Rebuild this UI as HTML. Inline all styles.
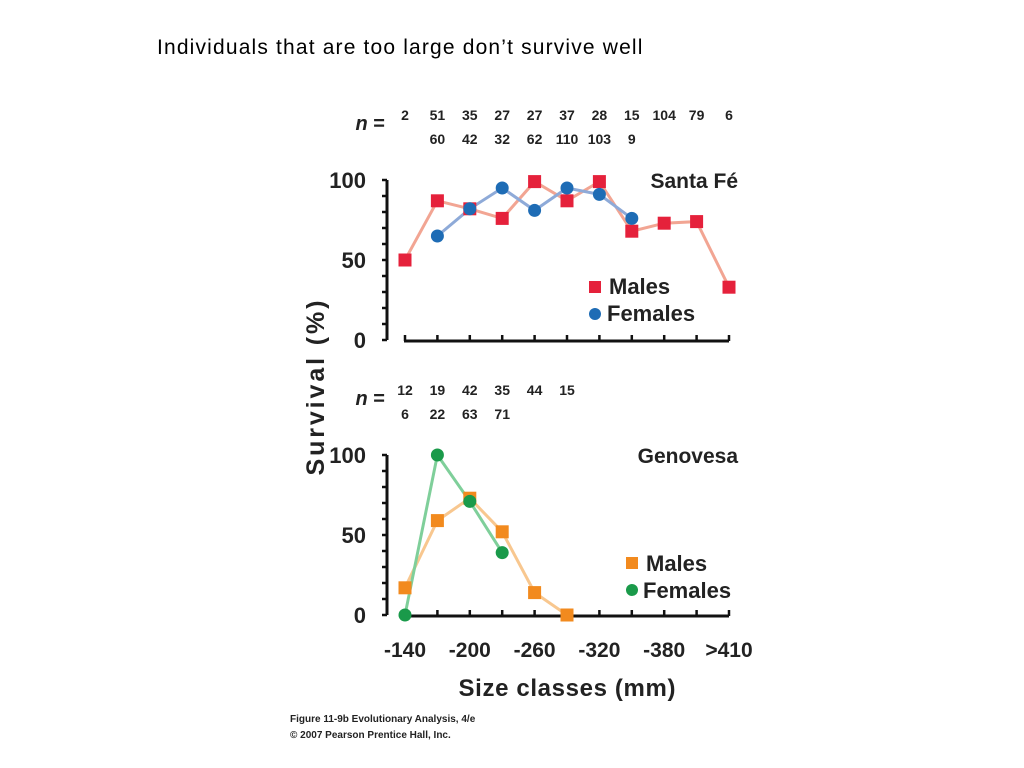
<!DOCTYPE html>
<html><head><meta charset="utf-8">
<style>
body{margin:0;background:#fff;}
svg{display:block;font-family:"Liberation Sans",sans-serif;}
.b{font-weight:bold;fill:#222;}
</style></head><body>
<svg width="1024" height="768">
<text x="157" y="54" font-size="21" letter-spacing="0.6" fill="#000" textLength="486">Individuals that are too large don’t survive well</text>
<g id="g"></g>
<text class="b" x="0" y="0" font-size="25" transform="translate(324,388) rotate(-90)" text-anchor="middle" textLength="175">Survival (%)</text>
<text class="b" x="567" y="696" font-size="24" text-anchor="middle" textLength="217">Size classes (mm)</text>
<text class="b" x="290" y="722" font-size="10">Figure 11-9b  Evolutionary Analysis, 4/e</text>
<text class="b" x="290" y="738" font-size="10">© 2007 Pearson Prentice Hall, Inc.</text>
</svg>
<script>
const categories=["-140","","-200","","-260","","-320","","-380","",">410"];
const sfMales=[50,87,82,76,99,87,99,68,73,74,33];
const sfFemales=[null,65,82,95,81,95,91,76,null,null,null];
const sfNm=["2","51","35","27","27","37","28","15","104","79","6"];
const sfNf=["","60","42","32","62","110","103","9","","",""];
const gMales=[17,59,73,52,14,0,null,null,null,null,null];
const gFemales=[0,100,71,39,null,null,null,null,null,null,null];
const gNm=["12","19","42","35","44","15","","","","",""];
const gNf=["6","22","63","71","","","","","","",""];
const NS="http://www.w3.org/2000/svg";
const g=document.getElementById('g');
function el(t,a,p){const e=document.createElementNS(NS,t);for(const k in a)e.setAttribute(k,a[k]);(p||g).appendChild(e);return e;}
const x=i=>405+i*32.4;
function panel(top,name,mv,fv,nm,nf,mc,ml,fc,fl,title,showX){
  const y=v=>top+160-v*1.6;
  const grp=el('g',{});
  
  
  el('line',{x1:387,y1:top,x2:387,y2:top+160,stroke:'#111','stroke-width':3},grp);
  for(let v=0;v<=100;v+=10){el('line',{x1:382,y1:y(v),x2:387,y2:y(v),stroke:'#111','stroke-width':2.5},grp);}
  [0,50,100].forEach(v=>{const t=el('text',{x:366,y:y(v)+8,'font-size':22,'text-anchor':'end',class:'b'},grp);t.textContent=v;
    
    });
  el('line',{x1:404,y1:top+161,x2:729,y2:top+161,stroke:'#111','stroke-width':3},grp);
  categories.forEach((c,i)=>{el('line',{x1:x(i),y1:top+161,x2:x(i),y2:top+155,stroke:'#111','stroke-width':2.5},grp);
    if(showX&&c){const t=el('text',{x:x(i),y:top+202,'font-size':21,'text-anchor':'middle',class:'b'},grp);t.textContent=c;
      
      }});
  function line(vals,col){let d='';vals.forEach((v,i)=>{if(v!=null)d+=(d?'L':'M')+x(i)+' '+y(v);});
    const p=el('path',{d:d,fill:'none',stroke:col,'stroke-width':3},grp);
    
    }
  line(mv,ml);line(fv,fl);
  mv.forEach((v,i)=>{if(v==null)return;const r=el('rect',{x:x(i)-6.5,y:y(v)-6.5,width:13,height:13,fill:mc},grp);
    
    });
  fv.forEach((v,i)=>{if(v==null)return;const c=el('circle',{cx:x(i),cy:y(v),r:6.5,fill:fc},grp);
    
    });
  const nt=el('text',{x:385,y:top-50,'font-size':20,'text-anchor':'end',class:'b'},grp);
  nt.innerHTML='<tspan font-style="italic">n</tspan> =';
  
  
  nm.forEach((s,i)=>{if(!s)return;const t=el('text',{x:x(i),y:top-60,'font-size':14,'text-anchor':'middle',class:'b'},grp);t.textContent=s;
    
    });
  nf.forEach((s,i)=>{if(!s)return;const t=el('text',{x:x(i),y:top-36,'font-size':14,'text-anchor':'middle',class:'b'},grp);t.textContent=s;
    
    });
  const tt=el('text',{x:738,y:top+8,'font-size':21,'text-anchor':'end',class:'b'},grp);tt.textContent=title;
  
  
  return {grp,y};
}
const a=panel(180,'santa-fe',sfMales,sfFemales,sfNm,sfNf,'#e5213b','#f2a593','#1e6cb5','#8eaad8','Santa Fé',false);
el('rect',{x:589,y:281,width:12,height:12,fill:'#e5213b'},a.grp);
el('circle',{cx:595,cy:314,r:6,fill:'#1e6cb5'},a.grp);
let t=el('text',{x:609,y:294,'font-size':22,class:'b'},a.grp);t.textContent='Males';

t=el('text',{x:607,y:321,'font-size':22,class:'b'},a.grp);t.textContent='Females';

const b=panel(455,'genovesa',gMales,gFemales,gNm,gNf,'#f28a1e','#f8c78f','#1a9a4a','#7fcf9a','Genovesa',true);
el('rect',{x:626,y:557,width:12,height:12,fill:'#f28a1e'},b.grp);
el('circle',{cx:632,cy:590,r:6,fill:'#1a9a4a'},b.grp);
t=el('text',{x:646,y:571,'font-size':22,class:'b'},b.grp);t.textContent='Males';

t=el('text',{x:643,y:598,'font-size':22,class:'b'},b.grp);t.textContent='Females';

</script>
</body></html>
